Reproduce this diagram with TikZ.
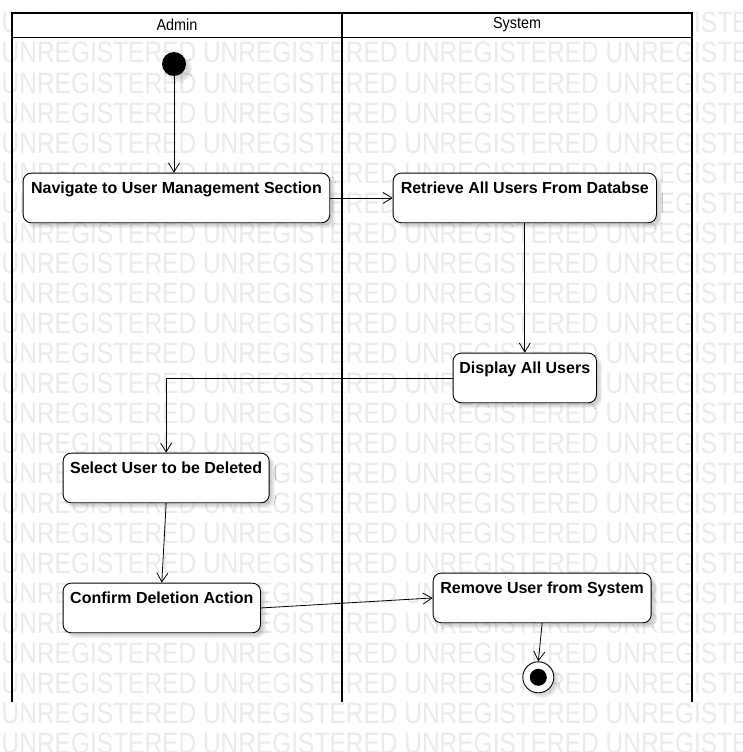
\documentclass[tikz,border=0pt]{standalone}
\usepackage{fontspec}
\setmainfont{Liberation Sans}
\newfontfamily\wmfont[FakeStretch=0.83]{Liberation Sans}
\newfontfamily\lanefont[FakeStretch=0.9]{Liberation Sans}
\usetikzlibrary{arrows.meta,shadows.blur}
\tikzset{
  action/.style={draw,fill=white,rounded corners=8pt,anchor=north west,inner xsep=0pt,inner ysep=0pt,
    text height=20pt,text depth=29.6pt,font=\fontsize{16}{19}\selectfont\bfseries,line width=0.9pt,
    blur shadow={shadow xshift=4pt,shadow yshift=-4pt,shadow opacity=18,shadow blur steps=6}},
  flow/.style={line width=0.8pt,-{Straight Barb[length=9pt,width=11pt]}},
  lane/.style={line width=2.4pt},
  lanetitle/.style={font=\lanefont\fontsize{16}{19}\selectfont},
  watermark/.style={text=black!8,anchor=base west,inner sep=0pt,font=\wmfont\fontsize{29.5}{30}\selectfont},
}
\begin{document}
\begin{tikzpicture}[x=1pt,y=-1pt]
\useasboundingbox (0,0) rectangle (742,752);
%background text
\begin{scope}
\clip (0,0) rectangle (742,752);
\foreach \k in {0,...,24}
  \node[watermark] (wm\k) at (1.5,33+30*\k) {UNREGISTERED UNREGISTERED UNREGISTERED UNREGISTERED};
\end{scope}
%lanes
\fill[white] (12,13) rectangle (692,37.5);
\draw[lane] (12,702) -- (12,13) -- (692,13) -- (692,702);
\draw[lane] (342,13) -- (342,702);
\draw[line width=1.8pt] (12,37.5) -- (692,37.5);
\node[lanetitle] (admin) at (177,25) {Admin};
\node[lanetitle] (system) at (517,25) {System};
%start and end
\node[circle,fill=black,minimum size=24pt,inner sep=0pt,
  blur shadow={shadow xshift=5pt,shadow yshift=-5pt,shadow opacity=15}] (start) at (174,64) {};
\node[circle,draw,fill=white,minimum size=31pt,inner sep=0pt,line width=0.9pt,
  blur shadow={shadow xshift=4pt,shadow yshift=-4pt,shadow opacity=15}] (final) at (538.3,677.3) {};
\fill (final.center) circle (8.5pt);
%actions
\node[action,minimum width=306.6pt] (navigate) at (22.7,172.7) {Navigate to User Management Section};
\node[action,minimum width=263.3pt] (retrieve) at (392.7,172.7) {Retrieve All Users From Databse};
\node[action,minimum width=143.3pt] (display) at (452.7,352.7) {Display All Users};
\node[action,minimum width=206pt] (select) at (62.7,452.7) {Select User to be Deleted};
\node[action,minimum width=197.3pt] (confirm) at (62.7,582.7) {Confirm Deletion Action};
\node[action,minimum width=218pt] (remove) at (432.7,572.7) {Remove User from System};
%flows
\draw[flow] (start) -- (start |- navigate.north);
\draw[flow] (navigate.east) -- (retrieve.west);
\draw[flow] (retrieve.south) -- (display.north);
\draw[flow] (display.west) -| (select.north);
\draw[flow] (select.south) -- (confirm.north);
\draw[flow] (confirm.east) -- (remove.west);
\draw[flow] (remove.south) -- (final.north);
\end{tikzpicture}
\end{document}
